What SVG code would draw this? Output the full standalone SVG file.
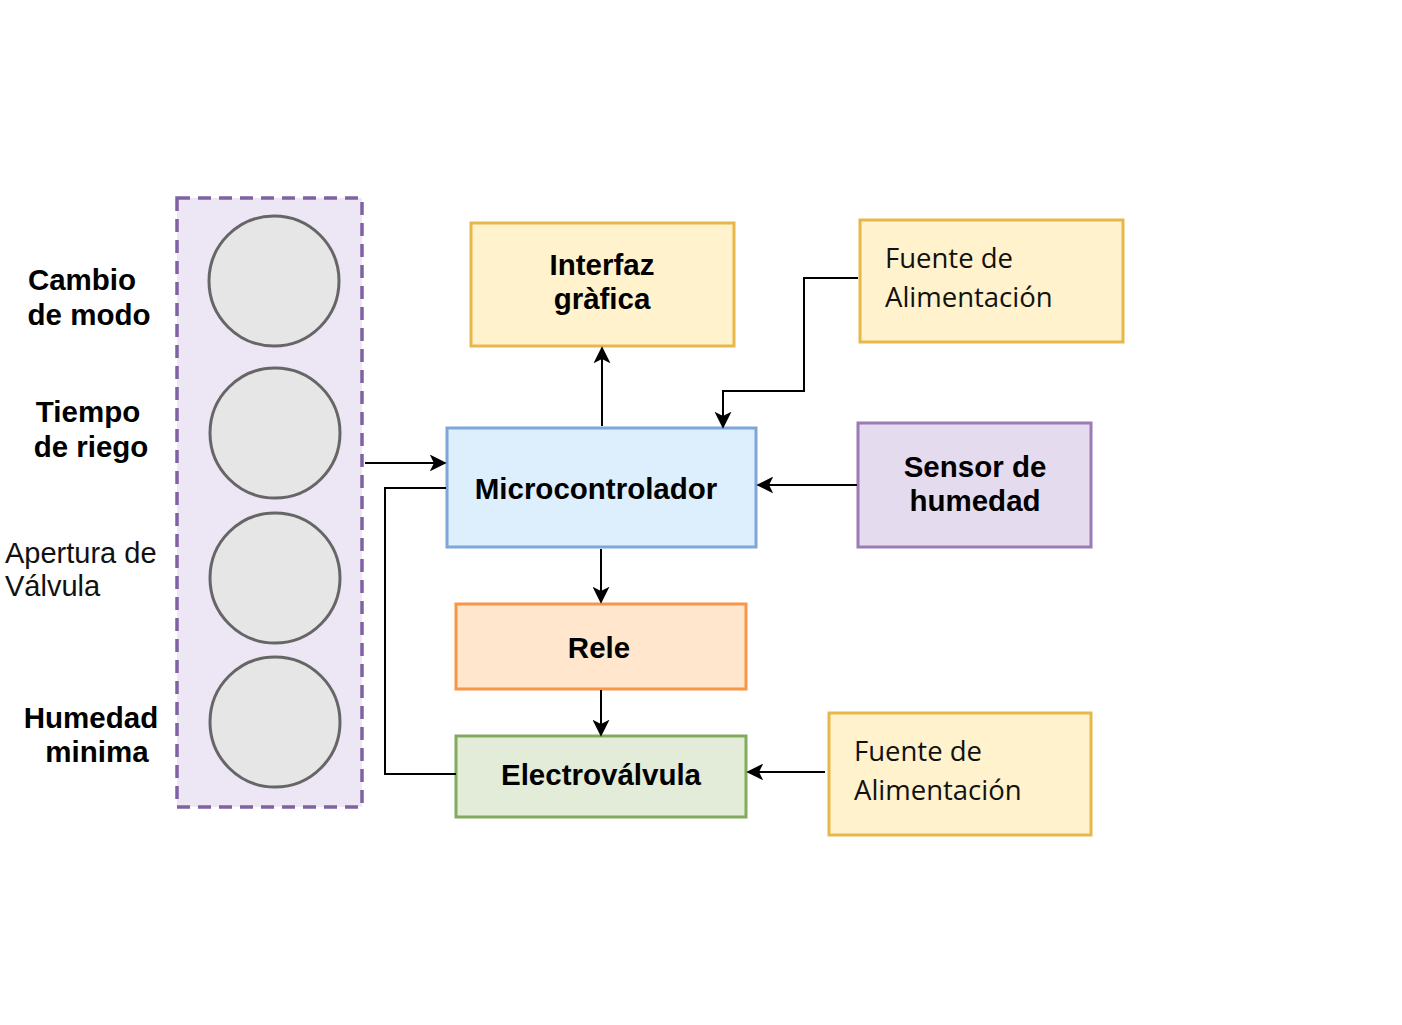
<svg xmlns="http://www.w3.org/2000/svg" width="1402" height="1025" viewBox="0 0 1402 1025">
<defs>
<marker id="arr" viewBox="0 0 10 10" refX="9" refY="5" markerWidth="17" markerHeight="17" markerUnits="userSpaceOnUse" orient="auto">
<path d="M0,0 L10,5 L0,10 L2.5,5 Z" fill="#000"/>
</marker>
</defs>
<style>
.b{font-family:"Liberation Sans",Arial,sans-serif;font-weight:bold;font-size:29.5px;fill:#000;text-anchor:middle}
.n{font-family:"Liberation Sans",Arial,sans-serif;font-size:29px;fill:#111}
.f{font-family:"Open Sans","Noto Sans",sans-serif;font-size:27.5px;fill:#111}
.c{fill:#e6e6e6;stroke:#666;stroke-width:3}
.w{fill:none;stroke:#000;stroke-width:2}
</style>
<rect width="1402" height="1025" fill="#fff"/>
<g id="entradas">
<rect x="177" y="198" width="185" height="609" fill="#ede6f5" stroke="#7f62a1" stroke-width="3.5" stroke-dasharray="13,8"/>
<circle class="c" cx="274" cy="281" r="65"/>
<circle class="c" cx="275" cy="433" r="65"/>
<circle class="c" cx="275" cy="578" r="65"/>
<circle class="c" cx="275" cy="722" r="65"/>
<text class="b" x="82" y="290">Cambio</text>
<text class="b" x="89" y="325">de modo</text>
<text class="b" x="88" y="422">Tiempo</text>
<text class="b" x="91" y="457">de riego</text>
<text class="n" x="5" y="563">Apertura de</text>
<text class="n" x="5" y="596">Válvula</text>
<text class="b" x="91" y="728">Humedad</text>
<text class="b" x="97" y="762">minima</text>
</g>
<g id="interfaz">
<rect x="471" y="223" width="263" height="123" fill="#fff2cc" stroke="#e6b84a" stroke-width="3"/>
<text class="b" x="602" y="275">Interfaz</text>
<text class="b" x="602" y="309">gràfica</text>
</g>
<g id="micro">
<rect x="447" y="428" width="309" height="119" fill="#ddeefd" stroke="#7ea6d8" stroke-width="3"/>
<text class="b" x="596" y="499">Microcontrolador</text>
</g>
<g id="fuente1">
<rect x="860" y="220" width="263" height="122" fill="#fff2cc" stroke="#e6b84a" stroke-width="3"/>
<text class="f" x="885" y="268">Fuente de</text>
<text class="f" x="885" y="307">Alimentación</text>
</g>
<g id="sensor">
<rect x="858" y="423" width="233" height="124" fill="#e5dbef" stroke="#9a7bb5" stroke-width="3"/>
<text class="b" x="975" y="477">Sensor de</text>
<text class="b" x="975" y="511">humedad</text>
</g>
<g id="rele">
<rect x="456" y="604" width="290" height="85" fill="#ffe6cc" stroke="#f79646" stroke-width="3"/>
<text class="b" x="599" y="658">Rele</text>
</g>
<g id="electrovalvula">
<rect x="456" y="736" width="290" height="81" fill="#e3ecd9" stroke="#82ab5c" stroke-width="3"/>
<text class="b" x="601" y="785">Electroválvula</text>
</g>
<g id="fuente2">
<rect x="829" y="713" width="262" height="122" fill="#fff2cc" stroke="#e6b84a" stroke-width="3"/>
<text class="f" x="854" y="761">Fuente de</text>
<text class="f" x="854" y="800">Alimentación</text>
</g>
<g id="conectores">
<line class="w" x1="365" y1="463" x2="445" y2="463" marker-end="url(#arr)"/>
<polyline class="w" points="446,488 385,488 385,774 456,774"/>
<line class="w" x1="602" y1="426" x2="602" y2="348" marker-end="url(#arr)"/>
<polyline class="w" points="858,278 804,278 804,391 723,391 723,427" marker-end="url(#arr)"/>
<line class="w" x1="857" y1="485" x2="758" y2="485" marker-end="url(#arr)"/>
<line class="w" x1="601" y1="549" x2="601" y2="602" marker-end="url(#arr)"/>
<line class="w" x1="601" y1="690" x2="601" y2="735" marker-end="url(#arr)"/>
<line class="w" x1="825" y1="772" x2="748" y2="772" marker-end="url(#arr)"/>
</g>
</svg>
